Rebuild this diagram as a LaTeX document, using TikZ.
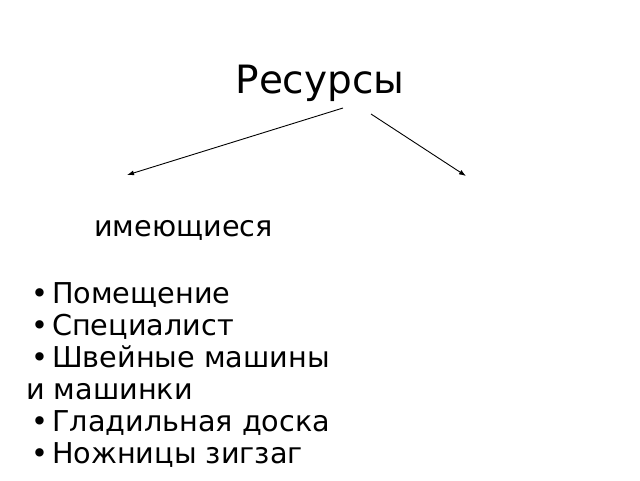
\documentclass[tikz,border=0pt]{standalone}
\usepackage{fontspec}
\setmainfont{DejaVu Sans}
\usetikzlibrary{arrows.meta}
\begin{document}
\begin{tikzpicture}[x=1pt,y=-1pt,
  txt/.style={inner sep=0pt,anchor=base west,font=\fontsize{28.7}{32}\selectfont},
  conn/.style={line width=0.9pt,-{Latex[length=7pt,width=5pt]}}]
\useasboundingbox[fill=white] (0,0) rectangle (640,480);
\node[inner sep=0pt,anchor=base,font=\fontsize{39}{44}\selectfont] (title) at (320,93) {Ресурсы};
\coordinate (l1) at (343,108);
\coordinate (l2) at (127,175);
\coordinate (r1) at (371,114);
\coordinate (r2) at (466,176);
\draw[conn] (l1) -- (l2);
\draw[conn] (r1) -- (r2);
\node[txt] (have) at (94,236) {имеющиеся};
\newcommand{\bul}{\makebox[21pt][l]{•}}
\node[txt] (i1) at (31,303) {\bul Помещение};
\node[txt] (i2) at (31,335) {\bul Специалист};
\node[txt] (i3) at (31,367) {\bul Швейные машины};
\node[txt] (i3b) at (26,399) {и машинки};
\node[txt] (i4) at (31,431) {\bul Гладильная доска};
\node[txt] (i5) at (31,463) {\bul Ножницы зигзаг};
\end{tikzpicture}
\end{document}
